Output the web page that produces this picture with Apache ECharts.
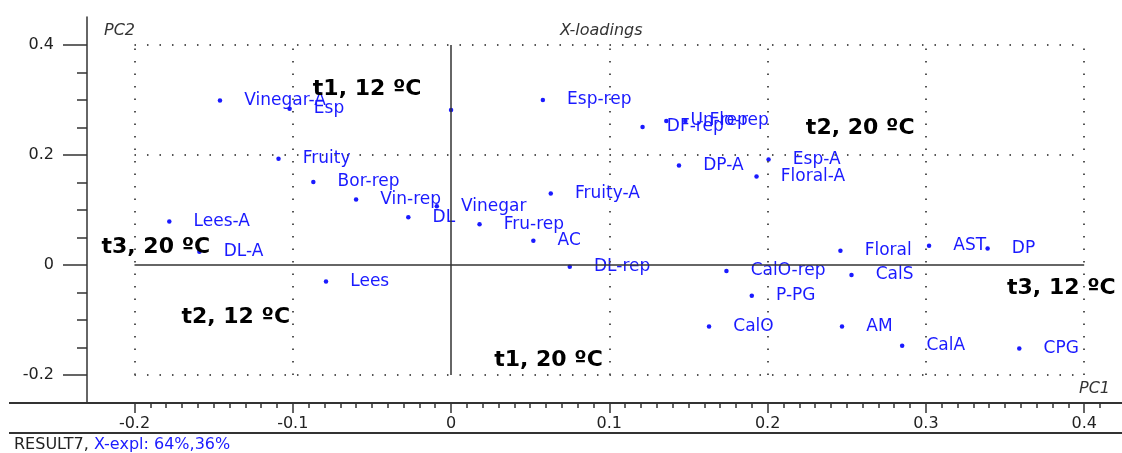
<!DOCTYPE html>
<html><head><meta charset="utf-8">
<script src="https://cdn.jsdelivr.net/npm/echarts@6/dist/echarts.min.js"></script>
<style>html,body{margin:0;padding:0;background:#fff}#c{width:1122px;height:453px}</style>
</head><body><div id="c"></div>
<script>
// ---- data ----
const names = ['Vinegar-A','Esp','Fruity','Bor-rep','Vin-rep','DL','Vinegar','Lees-A','DL-A','Lees',
  'Fru-rep','AC','DL-rep','Fruity-A','Esp-rep','DF-rep','Un-rep','Flo-rep','Esp-A','Floral-A','DP-A',
  'Floral','AST','DP','CalS','CalO-rep','P-PG','CalO','AM','CalA','CPG',''];
const pc1 = [-0.146,-0.102,-0.109,-0.087,-0.060,-0.027,-0.009,-0.178,-0.159,-0.079,
  0.018,0.052,0.075,0.063,0.058,0.121,0.136,0.148,0.2006,0.193,0.144,
  0.246,0.302,0.339,0.253,0.174,0.190,0.163,0.247,0.285,0.359,0.0];
const pc2 = [0.299,0.284,0.193,0.151,0.119,0.087,0.107,0.079,0.024,-0.030,
  0.074,0.044,-0.003,0.130,0.300,0.251,0.262,0.262,0.192,0.161,0.181,
  0.026,0.035,0.030,-0.018,-0.011,-0.056,-0.112,-0.112,-0.147,-0.152,0.282];
const annoText = ['t1, 12 ºC','t2, 20 ºC','t3, 20 ºC','t2, 12 ºC','t1, 20 ºC','t3, 12 ºC'];
const annoX = [-0.053,0.2585,-0.1865,-0.136,0.0616,0.3856];
const annoY = [0.320,0.249,0.033,-0.096,-0.173,-0.042];
const xMajorTicks = [-0.2,-0.1,0,0.1,0.2,0.3,0.4];
const yMajorTicks = [-0.2,0,0.2,0.4];
const gridX = [-0.2,-0.1,0.1,0.2,0.3,0.4];
const gridY = [-0.2,0.2,0.4];
const xMinorTicks = []; for (let i=-20;i<=41;i++) xMinorTicks.push(+(i/100).toFixed(2));
const yMinorTicks = []; for (let i=-4;i<=8;i++) yMinorTicks.push(+(i*0.05).toFixed(2));

// ---- styles ----
const BLUE = '#1a1aff';
const AX = '#333';
const FONT = 'DejaVu Sans';
const XMIN=-0.23, XMAX=0.41, YMIN=-0.251, YMAX=0.451;
const BOX = [-0.2, 0.4];

const dotted = {color:'#555', width:2, type:[1.5,11]};
const solid = {color:'#333', width:1.5, type:'solid'};
const gridLines = [];
gridX.forEach(v=>gridLines.push([{coord:[v,BOX[0]],lineStyle:dotted},{coord:[v,BOX[1]]}]));
gridY.forEach(v=>gridLines.push([{coord:[BOX[0],v],lineStyle:dotted},{coord:[BOX[1],v]}]));
gridLines.push([{coord:[0,BOX[0]],lineStyle:solid},{coord:[0,BOX[1]]}]);
gridLines.push([{coord:[BOX[0],0],lineStyle:solid},{coord:[BOX[1],0]}]);

const chart = echarts.init(document.getElementById('c'));
chart.setOption({
  animation:false,
  backgroundColor:'#fff',
  grid:{left:87, top:17, width:1013, height:386},
  xAxis:[
    {type:'value', min:XMIN, max:XMAX, position:'bottom',
     axisLine:{show:true, onZero:false, lineStyle:{color:AX,width:2}},
     axisTick:{show:true, customValues:xMajorTicks, length:10, lineStyle:{color:AX,width:1.5}},
     axisLabel:{show:true, customValues:xMajorTicks, margin:13, color:'#222', fontSize:16, fontFamily:FONT},
     splitLine:{show:false}},
    {type:'value', min:XMIN, max:XMAX, position:'bottom',
     axisLine:{show:false, onZero:false},
     axisTick:{show:true, customValues:xMinorTicks, length:5, lineStyle:{color:AX,width:1.5}},
     axisLabel:{show:false}, splitLine:{show:false}}
  ],
  yAxis:[
    {type:'value', min:YMIN, max:YMAX, position:'left',
     axisLine:{show:true, onZero:false, lineStyle:{color:AX,width:1.5}},
     axisTick:{show:true, customValues:yMajorTicks, length:24, lineStyle:{color:AX,width:1.5}},
     axisLabel:{show:true, customValues:yMajorTicks, margin:33, color:'#222', fontSize:16, fontFamily:FONT},
     splitLine:{show:false}},
    {type:'value', min:YMIN, max:YMAX, position:'left',
     axisLine:{show:false, onZero:false},
     axisTick:{show:true, customValues:yMinorTicks, length:10, lineStyle:{color:AX,width:1.5}},
     axisLabel:{show:false}, splitLine:{show:false}}
  ],
  series:[
    {type:'scatter', name:'loadings', symbol:'circle', symbolSize:4.5,
     itemStyle:{color:BLUE, opacity:1},
     data:names.map((n,i)=>({name:n, value:[pc1[i],pc2[i]]})),
     label:{show:true, position:'right', distance:22, formatter:'{b}', color:BLUE, fontSize:17, fontFamily:FONT},
     markLine:{silent:true, symbol:'none', label:{show:false}, data:gridLines},
     z:3},
    {type:'scatter', name:'annotations', symbolSize:0,
     itemStyle:{opacity:1},
     data:annoText.map((t,i)=>({name:t, value:[annoX[i],annoY[i]]})),
     label:{show:true, position:'inside', formatter:'{b}', color:'#000', fontSize:22, fontWeight:'bold', fontFamily:FONT},
     z:4}
  ],
  graphic:[
    {type:'line', shape:{x1:9,y1:403,x2:1122,y2:403}, style:{stroke:AX,lineWidth:2}, silent:true},
    {type:'line', shape:{x1:9,y1:433,x2:1122,y2:433}, style:{stroke:AX,lineWidth:2}, silent:true},
    {type:'text', left:104, top:23, style:{text:'PC2', fill:AX, font:'italic 16px "DejaVu Sans"'}},
    {type:'text', left:560, top:23, style:{text:'X-loadings', fill:AX, font:'italic 16px "DejaVu Sans"'}},
    {type:'text', left:1079, top:381, style:{text:'PC1', fill:AX, font:'italic 16px "DejaVu Sans"'}},
    {type:'text', left:14, top:437, style:{text:'{a|RESULT7, }{b|X-expl: 64%,36%}',
      rich:{a:{fill:'#222', fontSize:16, fontFamily:FONT}, b:{fill:BLUE, fontSize:16, fontFamily:FONT}}}}
  ]
});
</script></body></html>
